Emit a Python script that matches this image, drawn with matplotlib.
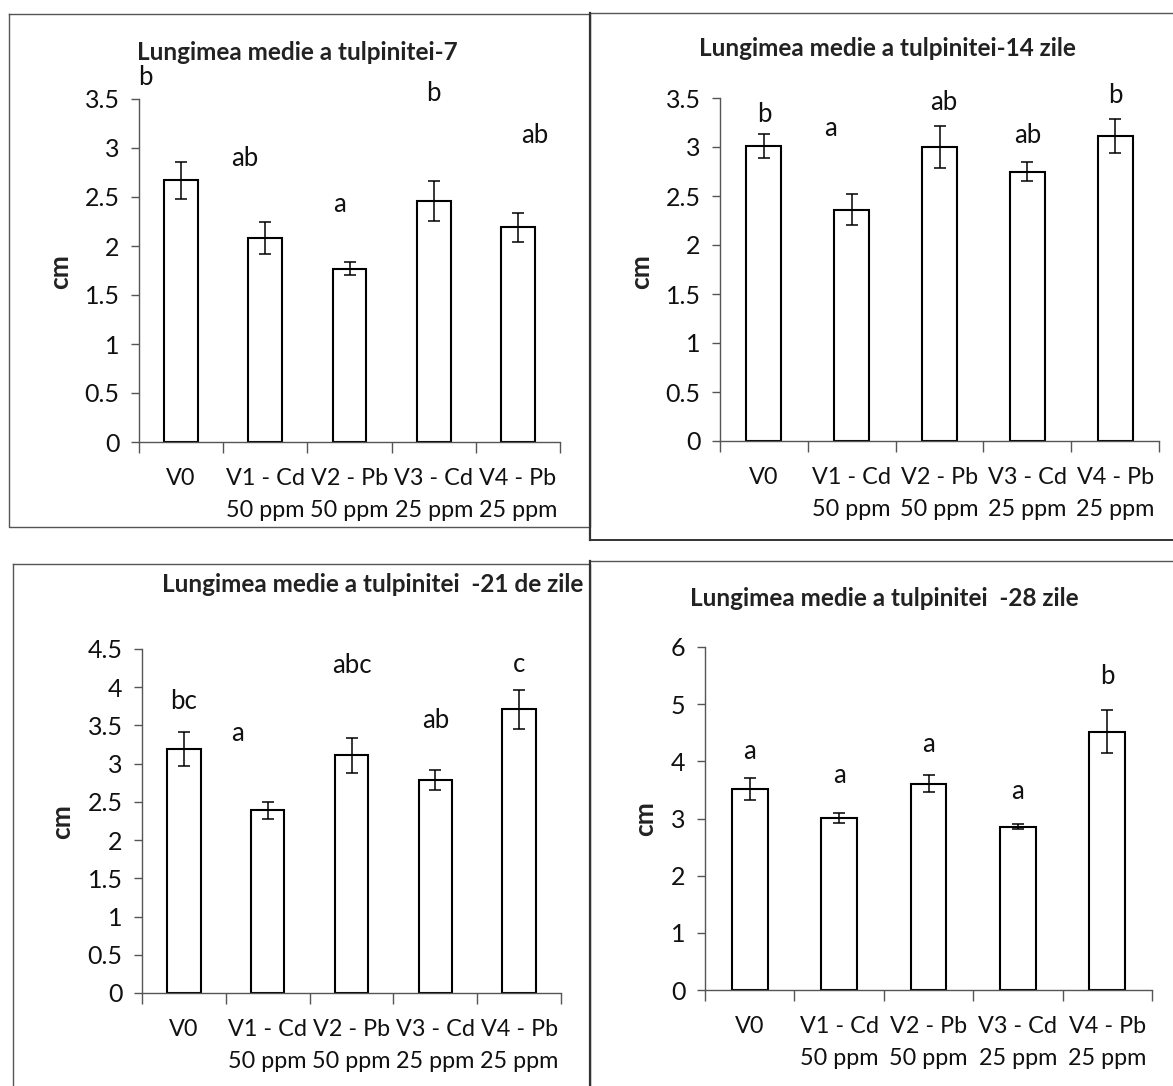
import matplotlib
matplotlib.use("Agg")
import matplotlib.pyplot as plt
import numpy as np

plt.rcParams['font.family'] = ['Lato', 'DejaVu Sans']

W, H = 1173, 1086

# --- data ---
categories = ["V0", "V1 - Cd\n50 ppm", "V2 - Pb\n50 ppm", "V3 - Cd\n25 ppm", "V4 - Pb\n25 ppm"]

titles = ["Lungimea medie a tulpinitei-7",
          "Lungimea medie a tulpinitei-14 zile",
          "Lungimea medie a tulpinitei  -21 de zile",
          "Lungimea medie a tulpinitei  -28 zile"]

mean_7 = [2.67, 2.08, 1.77, 2.46, 2.19]
err_7 = [0.19, 0.16, 0.07, 0.20, 0.145]
letters_7 = ["b", "ab", "a", "b", "ab"]

mean_14 = [3.01, 2.36, 3.00, 2.75, 3.11]
err_14 = [0.125, 0.16, 0.21, 0.10, 0.175]
letters_14 = ["b", "a", "ab", "ab", "b"]

mean_21 = [3.19, 2.39, 3.11, 2.79, 3.71]
err_21 = [0.22, 0.11, 0.23, 0.13, 0.26]
letters_21 = ["bc", "a", "abc", "ab", "c"]

mean_28 = [3.51, 3.01, 3.61, 2.86, 4.52]
err_28 = [0.19, 0.085, 0.15, 0.045, 0.375]
letters_28 = ["a", "a", "a", "a", "b"]

y_max = [3.5, 3.5, 4.5, 6]
y_step = [0.5, 0.5, 0.5, 1]

# --- layout (pixels in the 1173x1086 canvas) ---
axes_px = [(139, 99, 560, 442), (720, 98, 1159, 441),
           (142, 649, 561, 993), (705, 647, 1152, 990)]
title_px = [(137, 52), (699, 48), (162, 585), (690, 599)]
ylabel_px = [(60, 272), (641, 272), (62, 822), (645, 819)]
# where the significance letters sit (x offset from bar centre, y in data units)
letter_dx = [[-0.42, -0.24, -0.12, 0.0, 0.2], [0, -0.24, 0.05, 0, 0],
             [0, -0.36, 0, 0, 0], [0, 0, 0, 0, 0]]
letter_y = [[3.72, 2.89, 2.42, 3.56, 3.13], [3.33, 3.19, 3.45, 3.12, 3.53],
            [3.81, 3.40, 4.29, 3.57, 4.30], [4.17, 3.75, 4.29, 3.47, 5.49]]

means = [mean_7, mean_14, mean_21, mean_28]
errs = [err_7, err_14, err_21, err_28]
letters = [letters_7, letters_14, letters_21, letters_28]

fs = 18

fig = plt.figure(figsize=(W / 100, H / 100), dpi=100)

# panel frames, drawn on a full-figure overlay
bg = fig.add_axes([0, 0, 1, 1])
bg.set_xlim(0, W)
bg.set_ylim(H, 0)
bg.axis('off')
frame_kw = dict(color='#555555', lw=1.0)
bg.plot([9, 590, 590, 9, 9], [14, 14, 527, 527, 14], **frame_kw)
bg.plot([590, W], [13, 13], **frame_kw)
bg.plot([590, 590], [13, 540], color='#333333', lw=1.6)
bg.plot([590, W], [540, 540], color='#333333', lw=1.4)
bg.plot([13, 590, 590], [564, 564, H], **frame_kw)
bg.plot([13, 13], [564, H], **frame_kw)
bg.plot([590, W], [561, 561], **frame_kw)
bg.plot([590, 590], [561, H], color='#333333', lw=1.6)

x = np.arange(len(categories))
for i in range(4):
    l, t, r, b = axes_px[i]
    ax = fig.add_axes([l / W, 1 - b / H, (r - l) / W, (b - t) / H])
    ax.bar(x, means[i], width=0.4, color='white', edgecolor='black', linewidth=1.5, zorder=2)
    ax.errorbar(x, means[i], yerr=errs[i], fmt='none', ecolor='black',
                elinewidth=1.1, capsize=4, capthick=1.1, zorder=3)
    for j in range(len(categories)):
        ax.text(x[j] + letter_dx[i][j], letter_y[i][j], letters[i][j],
                ha='center', va='center', fontsize=fs + 0.5, color='#111111', clip_on=False)

    ax.set_xlim(-0.5, len(categories) - 0.5)
    ax.set_ylim(0, y_max[i])
    yt = np.arange(0, y_max[i] + 0.01, y_step[i])
    ax.set_yticks(yt)
    ax.set_yticklabels([f"{v:g}" for v in yt])
    ax.set_xticks(x)
    ax.set_xticklabels(categories, linespacing=1.6)
    ax.set_xticks(np.arange(-0.5, len(categories), 1), minor=True)
    ax.tick_params(axis='x', which='major', length=0, pad=19, labelsize=16.8, colors='#111111')
    ax.tick_params(axis='x', which='minor', length=8, width=1, color='#555555', direction='out')
    ax.tick_params(axis='y', length=6, width=1, color='#555555', pad=8, labelsize=fs,
                   labelcolor='#111111')
    for side in ['top', 'right']:
        ax.spines[side].set_visible(False)
    for side in ['left', 'bottom']:
        ax.spines[side].set_color('#555555')
        ax.spines[side].set_linewidth(1.0)
    ax.patch.set_alpha(0)

    tx, ty = title_px[i]
    bg.text(tx, ty, titles[i], ha='left', va='center', fontsize=17.5, fontweight='bold',
            color='#222222')
    lx, ly = ylabel_px[i]
    bg.text(lx, ly, "cm", ha='center', va='center', rotation=90, fontsize=19,
            fontweight='bold', color='#222222')

fig.savefig("out.png", dpi=100)
